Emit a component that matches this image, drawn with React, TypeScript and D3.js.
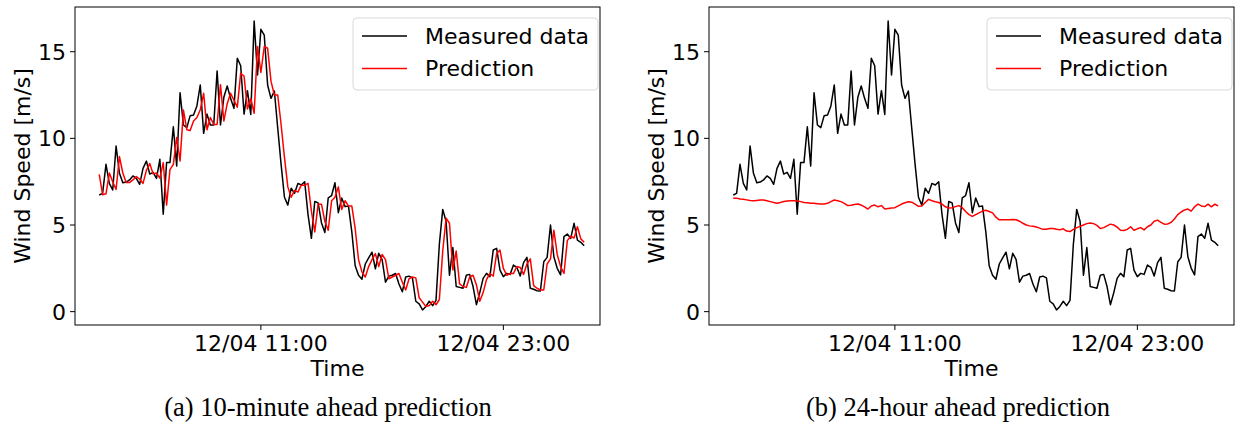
import React, { useEffect, useRef } from 'react';
import * as d3 from 'd3';

// 10-minute wind speed samples starting 12/04 03:00
const START = new Date(2022, 11, 4, 3, 0);
const STEP_MIN = 10;

const measured = [
  6.73, 6.83, 8.5, 7.4, 7.02, 9.56, 7.98, 7.44, 7.48, 7.6,
  7.83, 7.69, 7.35, 8.27, 8.69, 7.94, 8.04, 7.69, 8.79, 5.62,
  8.6, 8.6, 10.67, 8.4, 12.63, 10.77, 10.62, 11.31, 11.35, 11.87,
  13.08, 10.29, 11.4, 10.77, 10.77, 13.89, 10.77, 12.37, 13.02, 12.31,
  11.73, 14.62, 14.19, 11.4, 12.75, 11.38, 16.77, 13.66, 16.29, 15.96,
  13.08, 12.31, 12.73, 10.6, 8.5, 6.6, 6.15, 7.12, 6.83, 7.4,
  7.31, 7.5, 5.6, 4.23, 6.36, 6.28, 5.12, 4.57, 6.57, 6.7,
  7.44, 5.71, 6.56, 6.06, 6.1, 4.6, 2.65, 2.1, 1.87, 2.75,
  3.1, 3.43, 2.47, 3.37, 3.0, 1.7, 2.05, 2.1, 2.2, 1.6,
  1.15, 2.0, 2.05, 1.95, 0.6, 0.45, 0.1, 0.3, 0.6, 0.35,
  0.65, 3.9, 5.9, 5.2, 2.1, 3.7, 1.45, 1.4, 1.35, 2.1,
  2.15, 1.45, 0.4, 1.1, 1.92, 2.21, 2.02, 3.56, 3.65, 2.4,
  2.02, 2.21, 2.15, 2.69, 2.56, 2.06, 2.83, 3.13, 1.35, 1.29,
  1.21, 1.19, 2.88, 3.13, 5.0, 3.17, 2.5, 2.12, 4.33, 4.48,
  4.23, 5.1, 4.13, 4.0, 3.8,
];

const pred10min = [
  7.92, 6.75, 6.8, 8.0, 7.5, 7.05, 8.95, 8.0, 7.45, 7.45,
  7.6, 7.8, 7.65, 7.4, 8.15, 8.55, 7.95, 8.0, 7.7, 8.6,
  6.15, 8.2, 8.5, 10.05, 8.7, 11.63, 10.5, 10.45, 11.0, 11.2,
  11.65, 12.6, 10.5, 11.2, 10.8, 10.8, 13.1, 11.0, 12.0, 12.6,
  12.2, 11.8, 13.75, 13.6, 11.7, 12.3, 11.45, 15.3, 13.8, 15.3,
  15.2, 13.3, 12.5, 12.5, 10.8, 8.9, 7.2, 6.6, 7.0, 6.9,
  7.3, 7.3, 7.4, 5.8, 4.6, 6.2, 6.2, 5.2, 4.7, 6.4,
  6.6, 7.2, 5.9, 6.4, 6.1, 6.1, 4.8, 3.0, 2.3, 2.0,
  2.6, 3.0, 3.35, 2.6, 3.3, 3.0, 1.9, 2.0, 2.1, 2.2,
  1.7, 1.25, 1.9, 2.0, 1.95, 0.8, 0.55, 0.3, 0.35, 0.6,
  0.4, 0.7, 3.5, 5.4, 5.1, 2.4, 3.5, 1.6, 1.45, 1.4,
  2.0, 2.1, 1.55, 0.6, 1.1, 1.85, 2.2, 2.05, 3.35, 3.55,
  2.5, 2.1, 2.2, 2.2, 2.6, 2.55, 2.15, 2.75, 3.05, 1.5,
  1.35, 1.25, 1.25, 2.75, 3.05, 4.7, 3.3, 2.6, 2.2, 4.1,
  4.35, 4.25, 4.9, 4.2, 4.0,
];

const pred24h = [
  6.54, 6.55, 6.5, 6.48, 6.45, 6.42, 6.4, 6.42, 6.44, 6.44,
  6.4, 6.35, 6.3, 6.25, 6.3, 6.36, 6.38, 6.4, 6.4, 6.4,
  6.35, 6.3, 6.28, 6.25, 6.25, 6.23, 6.21, 6.21, 6.25, 6.35,
  6.44, 6.4, 6.35, 6.25, 6.12, 6.14, 6.18, 6.21, 6.15, 6.05,
  5.92, 6.1, 6.15, 6.05, 6.12, 5.92, 5.95, 5.98, 6.0, 6.1,
  6.21, 6.28, 6.34, 6.32, 6.2, 6.08, 6.1, 6.3, 6.48, 6.4,
  6.34, 6.3, 6.2, 6.05, 5.98, 6.0, 6.06, 6.12, 6.0, 5.78,
  5.6, 5.5, 5.6, 5.7, 5.8, 5.85, 5.78, 5.7, 5.45, 5.3,
  5.3, 5.3, 5.3, 5.32, 5.3, 5.22, 5.1, 5.0, 4.95, 4.93,
  4.88, 4.82, 4.75, 4.75, 4.8, 4.8, 4.75, 4.72, 4.78, 4.65,
  4.62, 4.75, 4.85, 4.92, 5.0, 5.08, 5.12, 5.08, 4.98, 4.8,
  4.85, 4.95, 5.05, 5.0, 4.88, 4.7, 4.68, 4.75, 4.9, 4.7,
  4.78, 4.85, 4.72, 4.9, 5.0, 5.22, 5.28, 5.15, 5.05, 5.06,
  5.15, 5.35, 5.6, 5.75, 5.87, 5.92, 5.8, 6.05, 6.21, 6.1,
  6.06, 6.2, 6.05, 6.2, 6.1,
];

const xTickTimes = [new Date(2022, 11, 4, 11, 0), new Date(2022, 11, 4, 23, 0)];
const yTicks = [0, 5, 10, 15];
const legendLabels = ['Measured data', 'Prediction'];
const captions = ['(a) 10-minute ahead prediction', '(b) 24-hour ahead prediction'];
const predictions = [pred10min, pred24h];

const FONT = 'DejaVu Sans, sans-serif';

export default function App() {
  const svgRef = useRef<SVGSVGElement>(null);

  useEffect(() => {
    if (!svgRef.current) return;
    const svg = d3.select(svgRef.current);
    svg.selectAll('*').remove();

    const frame = { left: 75, right: 600, top: 7, bottom: 325 };
    const panelOffset = 634;
    const fmt = d3.timeFormat('%m/%d %H:%M');

    const timeAt = (i: number) => new Date(START.getTime() + i * STEP_MIN * 60000);

    const xScale = d3.scaleTime()
      .domain([timeAt(-7.2), timeAt(148.7)])
      .range([frame.left, frame.right]);

    const yScale = d3.scaleLinear()
      .domain([-0.77, 17.58])
      .range([frame.bottom, frame.top]);

    predictions.forEach((pred, p) => {
      const g = svg.append('g').attr('transform', `translate(${p * panelOffset},0)`);

      const line = d3.line<number>()
        .x((_, i) => xScale(timeAt(i)))
        .y(d => yScale(d));

      g.append('path')
        .datum(measured)
        .attr('fill', 'none')
        .attr('stroke', '#000')
        .attr('stroke-width', 1.5)
        .attr('stroke-linejoin', 'round')
        .attr('d', line);

      g.append('path')
        .datum(pred)
        .attr('fill', 'none')
        .attr('stroke', '#ff0000')
        .attr('stroke-width', 1.5)
        .attr('stroke-linejoin', 'round')
        .attr('d', line);

      g.append('rect')
        .attr('x', frame.left)
        .attr('y', frame.top)
        .attr('width', frame.right - frame.left)
        .attr('height', frame.bottom - frame.top)
        .attr('fill', 'none')
        .attr('stroke', '#000')
        .attr('stroke-width', 1);

      // y axis
      yTicks.forEach(t => {
        g.append('line')
          .attr('x1', frame.left - 5).attr('x2', frame.left)
          .attr('y1', yScale(t)).attr('y2', yScale(t))
          .attr('stroke', '#000');
        g.append('text')
          .attr('x', frame.left - 9)
          .attr('y', yScale(t))
          .attr('dy', '0.36em')
          .attr('text-anchor', 'end')
          .style('font-family', FONT)
          .style('font-size', '22px')
          .text(t);
      });

      // x axis
      xTickTimes.forEach(t => {
        g.append('line')
          .attr('x1', xScale(t)).attr('x2', xScale(t))
          .attr('y1', frame.bottom).attr('y2', frame.bottom + 5)
          .attr('stroke', '#000');
        g.append('text')
          .attr('x', xScale(t))
          .attr('y', frame.bottom + 26)
          .attr('text-anchor', 'middle')
          .style('font-family', FONT)
          .style('font-size', '22px')
          .text(fmt(t));
      });

      g.append('text')
        .attr('x', (frame.left + frame.right) / 2)
        .attr('y', 376)
        .attr('text-anchor', 'middle')
        .style('font-family', FONT)
        .style('font-size', '22px')
        .text('Time');

      g.append('text')
        .attr('transform', 'rotate(-90)')
        .attr('x', -(frame.top + frame.bottom) / 2)
        .attr('y', 30)
        .attr('text-anchor', 'middle')
        .style('font-family', FONT)
        .style('font-size', '22px')
        .text('Wind Speed [m/s]');

      // legend
      const lg = g.append('g').attr('transform', `translate(${frame.right - 247},18)`);
      lg.append('rect')
        .attr('width', 245).attr('height', 72)
        .attr('rx', 4)
        .attr('fill', '#fff')
        .attr('fill-opacity', 0.8)
        .attr('stroke', '#d9d9d9');
      legendLabels.forEach((label, k) => {
        const cy = 18 + k * 32.5;
        lg.append('line')
          .attr('x1', 9).attr('x2', 54)
          .attr('y1', cy).attr('y2', cy)
          .attr('stroke', k === 0 ? '#000' : '#ff0000')
          .attr('stroke-width', 1.5);
        lg.append('text')
          .attr('x', 72)
          .attr('y', cy)
          .attr('dy', '0.36em')
          .style('font-family', FONT)
          .style('font-size', '22px')
          .text(label);
      });

      g.append('text')
        .attr('x', p === 0 ? 328 : 324)
        .attr('y', 416)
        .attr('text-anchor', 'middle')
        .style('font-family', 'Liberation Serif, serif')
        .style('font-size', '26.5px')
        .text(captions[p]);
    });
  }, []);

  return (
    <div style={{ position: 'absolute', left: 0, top: 0, background: '#fff' }}>
      <svg ref={svgRef} width={1241} height={424} role="img" aria-label="Wind speed prediction charts" />
    </div>
  );
}
